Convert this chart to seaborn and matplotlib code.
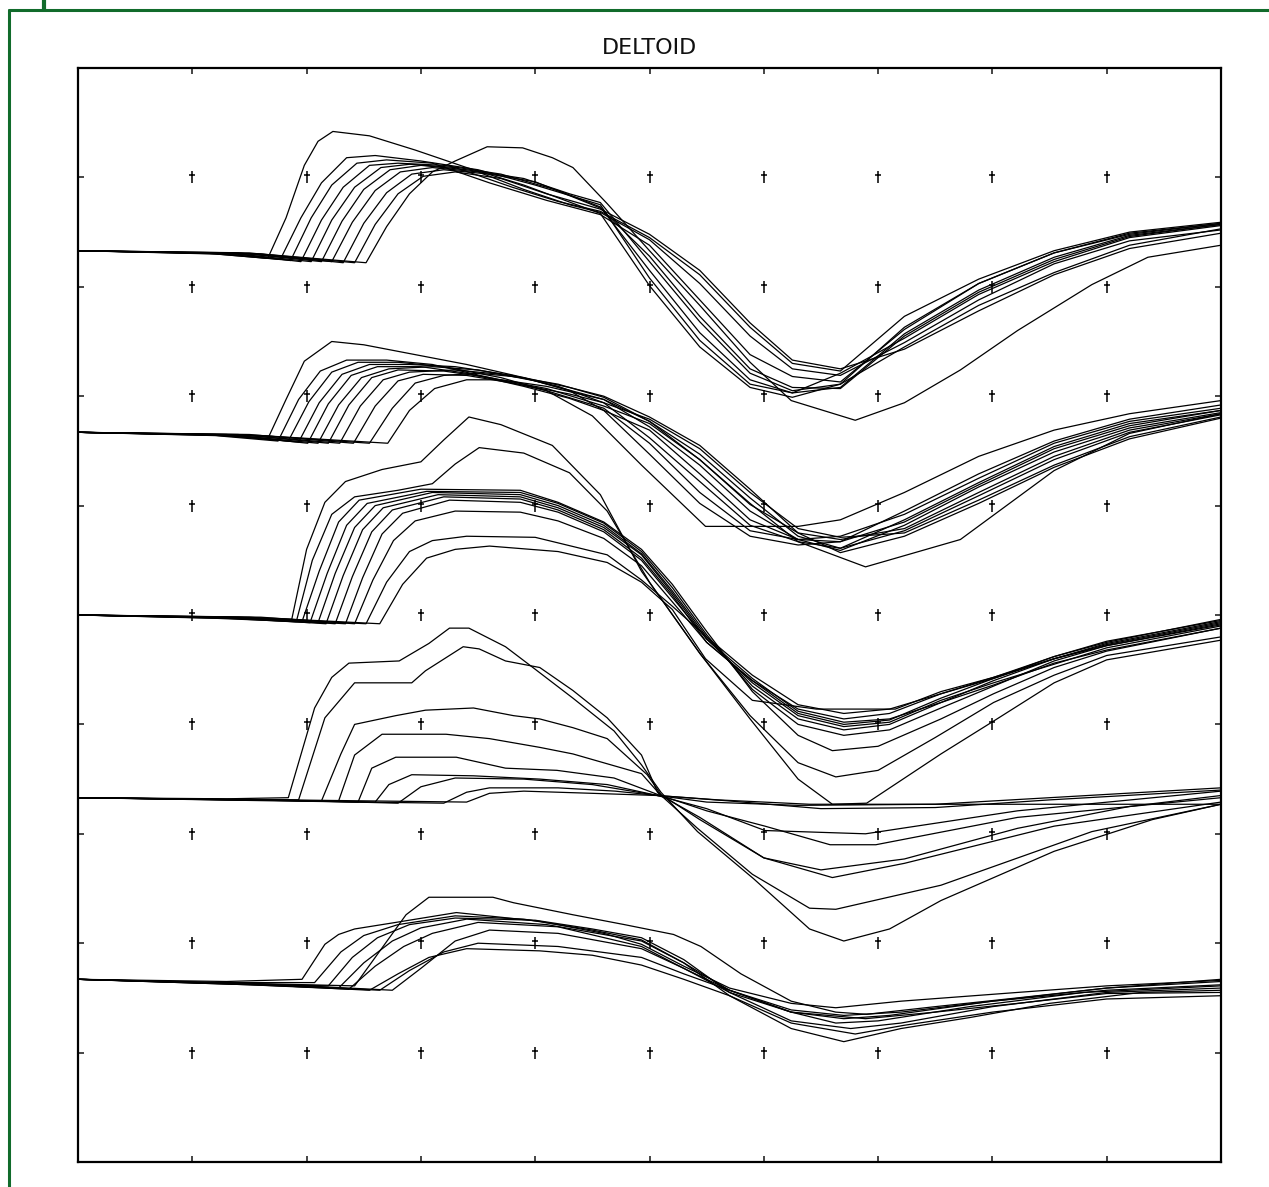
import itertools

import matplotlib
matplotlib.use("Agg")
import matplotlib.pyplot as plt
from matplotlib.lines import Line2D
from matplotlib.path import Path
import pandas as pd
import seaborn as sns

# five channels of superimposed sweeps, each trace = (time, amplitude) pairs
# amplitude is relative to the channel baseline, in grid units
OFFSETS = [8.33, 6.67, 5.0, 3.33, 1.67]

CH1 = [
    [(0, 0), (1.1, -0.02), (1.66, -0.07), (1.82, 0.3), (1.98, 0.78), (2.1, 1.0), (2.23, 1.09), (2.55, 1.05),
     (2.95, 0.92), (3.4, 0.76), (3.9, 0.6), (4.57, 0.34), (5.0, -0.32), (5.44, -0.88), (5.88, -1.25),
     (6.25, -1.34), (6.67, -1.22), (7.23, -0.88), (7.88, -0.5), (8.54, -0.2), (9.2, 0.05), (10, 0.2)],
    [(0, 0), (1.2, -0.03), (1.77, -0.08), (1.95, 0.3), (2.13, 0.62), (2.35, 0.85), (2.6, 0.87), (3.0, 0.82),
     (3.5, 0.74), (4.0, 0.6), (4.57, 0.42), (5.0, -0.25), (5.44, -0.82), (5.88, -1.22), (6.25, -1.3),
     (6.67, -1.12), (7.23, -0.8), (7.88, -0.4), (8.54, -0.1), (9.2, 0.12), (10, 0.23)],
    [(0, 0), (1.3, -0.03), (1.86, -0.09), (2.04, 0.3), (2.22, 0.6), (2.44, 0.8), (2.7, 0.83), (3.1, 0.8),
     (3.6, 0.62), (4.1, 0.46), (4.57, 0.33), (5.0, 0.05), (5.44, -0.45), (5.88, -0.95), (6.25, -1.15),
     (6.67, -1.2), (7.23, -0.72), (7.88, -0.3), (8.54, -0.02), (9.2, 0.16), (10, 0.25)],
    [(0, 0), (1.3, -0.02), (1.95, -0.1), (2.13, 0.28), (2.32, 0.58), (2.55, 0.78), (2.8, 0.8), (3.2, 0.78),
     (3.7, 0.7), (4.2, 0.55), (4.57, 0.4), (5.0, -0.18), (5.44, -0.75), (5.88, -1.18), (6.25, -1.3),
     (6.67, -1.25), (7.23, -0.76), (7.88, -0.36), (8.54, -0.06), (9.2, 0.14), (10, 0.24)],
    [(0, 0), (1.4, -0.03), (2.04, -0.1), (2.22, 0.28), (2.42, 0.58), (2.65, 0.76), (2.9, 0.79), (3.3, 0.76),
     (3.8, 0.58), (4.2, 0.45), (4.57, 0.36), (5.0, 0.12), (5.44, -0.22), (5.88, -0.7), (6.25, -1.03),
     (6.67, -1.1), (7.23, -0.6), (7.88, -0.26), (8.54, 0.0), (9.2, 0.17), (10, 0.26)],
    [(0, 0), (1.4, -0.02), (2.13, -0.1), (2.31, 0.27), (2.5, 0.56), (2.73, 0.74), (3.0, 0.78), (3.4, 0.74),
     (3.9, 0.66), (4.3, 0.52), (4.57, 0.44), (5.0, -0.1), (5.44, -0.65), (5.88, -1.12), (6.25, -1.28),
     (6.67, -1.22), (7.23, -0.7), (7.88, -0.3), (8.54, -0.02), (9.2, 0.15), (10, 0.25)],
    [(0, 0), (1.5, -0.03), (2.22, -0.1), (2.4, 0.26), (2.6, 0.55), (2.82, 0.72), (3.1, 0.76), (3.5, 0.72),
     (3.9, 0.56), (4.3, 0.42), (4.57, 0.35), (5.0, 0.1), (5.44, -0.3), (5.88, -0.78), (6.25, -1.08),
     (6.67, -1.14), (7.23, -0.84), (7.88, -0.45), (8.54, -0.12), (9.2, 0.09), (10, 0.19)],
    [(0, 0), (1.5, -0.02), (2.32, -0.11), (2.5, 0.25), (2.7, 0.53), (2.92, 0.7), (3.2, 0.74), (3.6, 0.7),
     (4.0, 0.63), (4.57, 0.39), (5.0, -0.05), (5.44, -0.6), (5.88, -1.08), (6.25, -1.25), (6.67, -1.26),
     (7.23, -0.78), (7.88, -0.38), (8.54, -0.08), (9.2, 0.13), (10, 0.24)],
    [(0, 0), (1.6, -0.03), (2.42, -0.11), (2.6, 0.24), (2.8, 0.52), (3.02, 0.68), (3.3, 0.72), (3.7, 0.66),
     (4.1, 0.52), (4.57, 0.38), (5.0, 0.15), (5.44, -0.18), (5.88, -0.66), (6.25, -1.0), (6.67, -1.08),
     (7.23, -0.9), (7.88, -0.55), (8.54, -0.22), (9.2, 0.02), (10, 0.16)],
    [(0, 0), (1.6, -0.03), (2.52, -0.11), (2.7, 0.22), (2.9, 0.52), (3.1, 0.72), (3.3, 0.82), (3.58, 0.95),
     (3.89, 0.94), (4.15, 0.85), (4.33, 0.76), (4.63, 0.43), (5.0, 0.0), (5.44, -0.5), (5.88, -1.02),
     (6.24, -1.37), (6.8, -1.55), (7.23, -1.39), (7.72, -1.09), (8.22, -0.73), (8.87, -0.31), (9.36, -0.06),
     (10, 0.05)],
]

CH2 = [
    [(0, 0), (1.1, -0.02), (1.66, -0.06), (1.82, 0.3), (1.98, 0.65), (2.22, 0.83), (2.5, 0.8), (2.9, 0.72),
     (3.4, 0.62), (3.9, 0.5), (4.3, 0.38), (4.6, 0.2), (5.0, -0.2), (5.44, -0.65), (5.88, -0.95), (6.3, -1.03),
     (6.67, -1.0), (7.23, -0.72), (7.88, -0.38), (8.54, -0.08), (9.2, 0.12), (10, 0.25)],
    [(0, 0), (1.2, -0.03), (1.75, -0.08), (1.93, 0.3), (2.12, 0.56), (2.35, 0.66), (2.7, 0.66), (3.1, 0.62),
     (3.6, 0.5), (4.1, 0.38), (4.6, 0.22), (5.0, -0.1), (5.44, -0.55), (5.88, -0.9), (6.3, -0.98),
     (6.67, -0.95), (7.23, -0.75), (7.88, -0.42), (8.54, -0.1), (9.2, 0.1), (10, 0.22)],
    [(0, 0), (1.2, -0.02), (1.84, -0.08), (2.02, 0.28), (2.22, 0.55), (2.45, 0.64), (2.8, 0.64), (3.2, 0.6),
     (3.7, 0.5), (4.1, 0.38), (4.5, 0.15), (4.93, -0.3), (5.49, -0.86), (6.3, -0.86), (6.67, -0.8),
     (7.23, -0.55), (7.88, -0.22), (8.54, 0.02), (9.2, 0.17), (10, 0.29)],
    [(0, 0), (1.3, -0.03), (1.93, -0.09), (2.11, 0.27), (2.31, 0.53), (2.55, 0.62), (2.9, 0.62), (3.3, 0.6),
     (3.8, 0.52), (4.2, 0.42), (4.6, 0.27), (5.0, -0.05), (5.44, -0.45), (5.88, -0.85), (6.3, -1.0),
     (6.67, -1.06), (7.23, -0.8), (7.88, -0.46), (8.54, -0.13), (9.2, 0.08), (10, 0.2)],
    [(0, 0), (1.3, -0.02), (2.01, -0.1), (2.19, 0.26), (2.39, 0.52), (2.62, 0.6), (3.0, 0.6), (3.4, 0.54),
     (3.9, 0.42), (4.3, 0.31), (4.6, 0.2), (5.0, 0.02), (5.44, -0.38), (5.88, -0.8), (6.3, -0.98),
     (6.67, -1.0), (7.23, -0.82), (7.88, -0.48), (8.54, -0.15), (9.2, 0.06), (10, 0.2)],
    [(0, 0), (1.4, -0.03), (2.10, -0.1), (2.28, 0.25), (2.48, 0.5), (2.72, 0.58), (3.1, 0.6), (3.5, 0.57),
     (4.0, 0.47), (4.6, 0.3), (5.0, 0.05), (5.44, -0.3), (5.88, -0.72), (6.3, -0.98), (6.67, -1.08),
     (7.23, -0.85), (7.88, -0.5), (8.54, -0.18), (9.2, 0.04), (10, 0.18)],
    [(0, 0), (1.4, -0.02), (2.19, -0.1), (2.37, 0.25), (2.57, 0.5), (2.8, 0.57), (3.2, 0.56), (3.6, 0.5),
     (4.1, 0.4), (4.6, 0.24), (5.0, 0.08), (5.44, -0.25), (5.88, -0.66), (6.3, -0.92), (6.67, -0.98),
     (7.23, -0.88), (7.88, -0.55), (8.54, -0.22), (9.2, 0.02), (10, 0.17)],
    [(0, 0), (1.5, -0.03), (2.29, -0.1), (2.47, 0.24), (2.67, 0.48), (2.9, 0.55), (3.3, 0.57), (3.7, 0.53),
     (4.2, 0.44), (4.6, 0.32), (5.0, 0.1), (5.44, -0.2), (5.88, -0.6), (6.3, -0.95), (6.67, -1.06),
     (7.23, -0.9), (7.88, -0.58), (8.54, -0.25), (9.2, 0.0), (10, 0.16)],
    [(0, 0), (1.5, -0.02), (2.41, -0.1), (2.6, 0.24), (2.8, 0.47), (3.02, 0.53), (3.4, 0.52), (3.8, 0.45),
     (4.3, 0.35), (4.6, 0.27), (5.0, 0.12), (5.44, -0.15), (5.88, -0.55), (6.3, -0.88), (6.67, -0.96),
     (7.23, -0.92), (7.88, -0.62), (8.54, -0.3), (9.2, -0.04), (10, 0.14)],
    [(0, 0), (1.6, -0.03), (2.55, -0.1), (2.75, 0.22), (2.95, 0.45), (3.2, 0.52), (3.5, 0.54), (3.9, 0.5),
     (4.3, 0.41), (4.6, 0.33), (5.0, 0.14), (5.44, -0.12), (5.88, -0.52), (6.3, -0.92), (6.67, -1.1),
     (7.23, -0.95), (7.88, -0.65), (8.54, -0.32), (9.2, -0.06), (10, 0.13)],
    [(0, 0), (1.6, -0.03), (2.71, -0.1), (2.9, 0.2), (3.12, 0.4), (3.4, 0.48), (3.7, 0.48), (4.1, 0.42),
     (4.6, 0.3), (5.0, 0.1), (5.44, -0.25), (5.88, -0.65), (6.3, -1.0), (6.89, -1.23), (7.72, -0.98),
     (8.54, -0.35), (9.2, -0.01), (10, 0.17)],
]

CH3 = [
    [(0, 0), (1.2, -0.02), (1.87, -0.04), (2.0, 0.6), (2.16, 1.03), (2.34, 1.22), (2.66, 1.33), (3.0, 1.4),
     (3.2, 1.6), (3.42, 1.81), (3.7, 1.74), (4.15, 1.55), (4.57, 1.1), (4.93, 0.4), (5.44, -0.35),
     (5.88, -0.95), (6.3, -1.5), (6.6, -1.73), (6.9, -1.72), (7.55, -1.27), (8.01, -0.97), (8.54, -0.62),
     (9.0, -0.41), (10, -0.23)],
    [(0, 0), (1.2, -0.03), (1.91, -0.06), (2.05, 0.5), (2.22, 0.92), (2.42, 1.08), (2.8, 1.14), (3.1, 1.2),
     (3.3, 1.38), (3.51, 1.53), (3.9, 1.48), (4.3, 1.3), (4.63, 0.95), (5.0, 0.3), (5.44, -0.35),
     (5.88, -0.92), (6.3, -1.35), (6.63, -1.48), (7.0, -1.42), (7.5, -1.12), (8.01, -0.8), (8.54, -0.55),
     (9.0, -0.37), (10, -0.2)],
    [(0, 0), (1.3, -0.02), (1.96, -0.06), (2.11, 0.4), (2.28, 0.85), (2.46, 1.05), (3.0, 1.15), (3.87, 1.14),
     (4.2, 1.03), (4.6, 0.85), (4.93, 0.6), (5.2, 0.28), (5.5, -0.15), (5.9, -0.7), (6.3, -1.1), (6.6, -1.24),
     (7.0, -1.2), (7.55, -0.95), (8.01, -0.72), (8.54, -0.48), (9.0, -0.33), (10, -0.12)],
    [(0, 0), (1.3, -0.03), (2.03, -0.07), (2.18, 0.38), (2.35, 0.82), (2.53, 1.02), (3.05, 1.13),
     (3.87, 1.12), (4.2, 1.02), (4.6, 0.84), (4.93, 0.58), (5.2, 0.25), (5.5, -0.18), (5.9, -0.68),
     (6.3, -1.0), (6.7, -1.1), (7.1, -1.05), (7.55, -0.85), (8.01, -0.65), (8.54, -0.42), (9.0, -0.28),
     (10, -0.08)],
    [(0, 0), (1.4, -0.02), (2.10, -0.07), (2.25, 0.38), (2.42, 0.8), (2.6, 1.0), (3.1, 1.12), (3.87, 1.1),
     (4.2, 1.0), (4.6, 0.82), (4.93, 0.56), (5.2, 0.22), (5.5, -0.2), (5.9, -0.65), (6.3, -0.95),
     (6.7, -1.05), (7.1, -1.0), (7.55, -0.8), (8.01, -0.6), (8.54, -0.4), (9.0, -0.26), (10, -0.06)],
    [(0, 0), (1.4, -0.03), (2.17, -0.08), (2.32, 0.36), (2.49, 0.78), (2.67, 0.98), (3.15, 1.1), (3.87, 1.08),
     (4.2, 0.98), (4.6, 0.8), (4.93, 0.55), (5.2, 0.2), (5.5, -0.22), (5.9, -0.62), (6.3, -0.92),
     (6.7, -1.02), (7.1, -0.98), (7.55, -0.78), (8.01, -0.62), (8.54, -0.45), (9.0, -0.3), (10, -0.1)],
    [(0, 0), (1.5, -0.02), (2.25, -0.08), (2.4, 0.35), (2.57, 0.76), (2.75, 0.96), (3.2, 1.08), (3.87, 1.06),
     (4.2, 0.96), (4.6, 0.78), (4.93, 0.52), (5.2, 0.18), (5.5, -0.25), (5.9, -0.6), (6.3, -0.9), (6.7, -1.0),
     (7.1, -0.96), (7.55, -0.76), (8.01, -0.58), (8.54, -0.38), (9.0, -0.24), (10, -0.05)],
    [(0, 0), (1.5, -0.03), (2.34, -0.08), (2.49, 0.34), (2.66, 0.74), (2.84, 0.93), (3.25, 1.05),
     (3.87, 1.03), (4.2, 0.94), (4.6, 0.76), (4.93, 0.5), (5.2, 0.16), (5.5, -0.22), (5.9, -0.58),
     (6.3, -0.88), (6.7, -0.98), (7.1, -0.95), (7.55, -0.8), (8.01, -0.64), (8.54, -0.44), (9.0, -0.32),
     (10, -0.12)],
    [(0, 0), (1.6, -0.02), (2.42, -0.08), (2.58, 0.32), (2.76, 0.68), (2.95, 0.86), (3.3, 0.95), (3.87, 0.94),
     (4.2, 0.86), (4.6, 0.7), (4.93, 0.45), (5.2, 0.12), (5.5, -0.25), (5.9, -0.6), (6.3, -0.86),
     (6.7, -0.95), (7.1, -0.9), (7.55, -0.72), (8.01, -0.57), (8.54, -0.4), (9.0, -0.27), (10, -0.07)],
    [(0, 0), (1.6, -0.03), (2.52, -0.08), (2.7, 0.3), (2.9, 0.58), (3.1, 0.68), (3.4, 0.72), (4.0, 0.71),
     (4.63, 0.55), (4.93, 0.32), (5.2, 0.08), (5.5, -0.2), (5.9, -0.55), (6.3, -0.82), (6.7, -0.9),
     (7.1, -0.86), (7.55, -0.72), (8.01, -0.58), (8.54, -0.4), (9.0, -0.28), (10, -0.09)],
    [(0, 0), (1.7, -0.03), (2.64, -0.08), (2.84, 0.28), (3.05, 0.52), (3.3, 0.6), (3.6, 0.63), (4.2, 0.58),
     (4.63, 0.48), (4.93, 0.3), (5.2, 0.05), (5.49, -0.4), (5.9, -0.78), (6.46, -0.86), (7.15, -0.86),
     (7.55, -0.7), (8.01, -0.57), (8.54, -0.38), (9.0, -0.25), (10, -0.04)],
]

CH4 = [
    [(0, 0), (1.3, -0.01), (1.84, 0.0), (2.07, 0.82), (2.22, 1.1), (2.37, 1.23), (2.81, 1.25), (3.07, 1.41),
     (3.25, 1.55), (3.42, 1.55), (3.74, 1.38), (3.98, 1.19), (4.33, 0.91), (4.69, 0.61), (4.93, 0.3),
     (5.1, 0.05), (5.42, -0.31), (5.91, -0.74), (6.4, -1.2), (6.7, -1.31), (7.1, -1.2), (7.55, -0.94),
     (8.54, -0.49), (9.4, -0.2), (10, -0.06)],
    [(0, 0), (1.3, -0.02), (1.93, -0.02), (2.16, 0.73), (2.42, 1.05), (2.92, 1.05), (3.04, 1.16), (3.37, 1.38),
     (3.51, 1.36), (3.74, 1.25), (4.04, 1.19), (4.33, 0.98), (4.63, 0.73), (4.93, 0.39), (5.07, 0.05),
     (5.42, -0.28), (5.9, -0.7), (6.4, -1.01), (6.63, -1.02), (7.55, -0.8), (8.87, -0.31), (10, -0.06)],
    [(0, 0), (1.4, -0.02), (2.13, -0.03), (2.3, 0.4), (2.42, 0.67), (2.78, 0.75), (3.04, 0.8), (3.46, 0.82),
     (3.81, 0.75), (4.04, 0.72), (4.33, 0.64), (4.63, 0.54), (4.98, 0.21), (5.1, 0.03), (5.44, -0.2),
     (6.0, -0.55), (6.5, -0.66), (7.23, -0.56), (8.22, -0.28), (9.2, -0.08), (10, 0.02)],
    [(0, 0), (1.5, -0.02), (2.28, -0.03), (2.42, 0.39), (2.66, 0.58), (3.22, 0.58), (3.6, 0.54), (4.04, 0.46),
     (4.33, 0.4), (4.93, 0.22), (5.1, 0.02), (5.44, -0.18), (6.0, -0.55), (6.6, -0.73), (7.23, -0.6),
     (8.54, -0.26), (10, -0.04)],
    [(0, 0), (1.5, -0.02), (2.45, -0.04), (2.57, 0.27), (2.78, 0.37), (3.31, 0.37), (3.74, 0.27), (4.19, 0.25),
     (4.69, 0.18), (5.07, 0.03), (5.5, -0.12), (6.01, -0.26), (6.58, -0.43), (6.98, -0.43), (8.22, -0.18),
     (10, 0.0)],
    [(0, 0), (1.6, -0.02), (2.6, -0.04), (2.72, 0.12), (2.92, 0.21), (3.46, 0.2), (4.04, 0.17), (4.63, 0.12),
     (5.07, 0.02), (5.5, -0.1), (6.01, -0.3), (6.89, -0.33), (8.22, -0.12), (10, 0.06)],
    [(0, 0), (1.7, -0.02), (2.8, -0.05), (3.0, 0.1), (3.3, 0.18), (3.9, 0.17), (4.5, 0.12), (5.07, 0.02),
     (5.5, -0.04), (6.3, -0.07), (7.5, -0.06), (8.5, 0.0), (10, 0.09)],
    [(0, 0), (1.8, -0.03), (3.2, -0.05), (3.4, 0.05), (3.6, 0.09), (4.2, 0.09), (4.7, 0.06), (5.07, 0.02),
     (5.6, -0.02), (6.4, -0.06), (10, -0.06)],
    [(0, 0), (1.8, -0.02), (3.4, -0.04), (3.6, 0.04), (3.9, 0.06), (4.5, 0.04), (5.07, 0.02), (5.7, -0.03),
     (6.5, -0.1), (7.5, -0.09), (8.5, -0.02), (10, 0.07)],
]

CH5 = [
    [(0, 0), (1.3, -0.02), (1.96, 0.0), (2.16, 0.32), (2.28, 0.41), (2.42, 0.46), (2.78, 0.52), (3.31, 0.61),
     (4.04, 0.53), (4.6, 0.42), (4.93, 0.32), (5.3, 0.12), (5.7, -0.08), (6.24, -0.22), (6.63, -0.26),
     (7.2, -0.2), (8.22, -0.12), (9.0, -0.06), (10, -0.01)],
    [(0, 0), (1.3, -0.03), (2.07, -0.03), (2.3, 0.25), (2.5, 0.4), (2.8, 0.5), (3.3, 0.58), (3.9, 0.55),
     (4.5, 0.45), (4.93, 0.36), (5.3, 0.15), (5.7, -0.1), (6.24, -0.3), (6.7, -0.36), (7.1, -0.33),
     (8.0, -0.2), (9.0, -0.1), (10, -0.05)],
    [(0, 0), (1.4, -0.04), (2.19, -0.06), (2.4, 0.2), (2.62, 0.38), (2.9, 0.5), (3.3, 0.56), (4.0, 0.54),
     (4.5, 0.46), (4.93, 0.38), (5.3, 0.18), (5.7, -0.12), (6.24, -0.38), (6.76, -0.45), (7.2, -0.4),
     (8.0, -0.25), (9.0, -0.12), (10, -0.08)],
    [(0, 0), (1.5, -0.05), (2.28, -0.08), (2.5, 0.15), (2.75, 0.35), (3.0, 0.47), (3.4, 0.55), (4.1, 0.5),
     (4.93, 0.35), (5.3, 0.15), (5.7, -0.15), (6.24, -0.45), (6.7, -0.57), (7.2, -0.45), (7.8, -0.35),
     (8.5, -0.22), (9.3, -0.12), (10, -0.1)],
    [(0, 0), (1.5, -0.05), (2.37, -0.09), (2.6, 0.12), (2.85, 0.3), (3.1, 0.42), (3.5, 0.52), (4.2, 0.48),
     (4.93, 0.3), (5.3, 0.1), (5.7, -0.12), (6.24, -0.3), (6.89, -0.36), (7.5, -0.3), (8.22, -0.22),
     (9.0, -0.13), (10, -0.12)],
    [(0, 0), (1.6, -0.04), (2.42, -0.06), (2.6, 0.2), (2.87, 0.59), (3.07, 0.75), (3.63, 0.75), (3.81, 0.7),
     (4.33, 0.59), (4.78, 0.5), (5.21, 0.41), (5.45, 0.3), (5.8, 0.05), (6.24, -0.2), (6.63, -0.3),
     (6.9, -0.32), (7.5, -0.25), (8.22, -0.17), (9.0, -0.08), (10, -0.02)],
    [(0, 0), (1.6, -0.05), (2.55, -0.1), (2.8, 0.05), (3.07, 0.2), (3.4, 0.28), (4.04, 0.26), (4.5, 0.22),
     (4.93, 0.13), (5.3, 0.0), (5.7, -0.15), (6.24, -0.4), (6.8, -0.5), (7.23, -0.42), (8.0, -0.3),
     (9.0, -0.18), (10, -0.15)],
    [(0, 0), (1.7, -0.05), (2.64, -0.1), (2.9, 0.08), (3.2, 0.25), (3.5, 0.33), (4.2, 0.3), (4.93, 0.2),
     (5.3, 0.05), (5.7, -0.1), (6.24, -0.3), (6.63, -0.4), (7.0, -0.38), (7.8, -0.25), (8.8, -0.12),
     (10, -0.06)],
    [(0, 0), (1.8, -0.05), (2.75, -0.1), (3.0, 0.1), (3.3, 0.35), (3.6, 0.45), (4.2, 0.42), (4.93, 0.28),
     (5.3, 0.1), (5.7, -0.1), (6.24, -0.28), (6.7, -0.33), (7.2, -0.3), (8.0, -0.2), (9.0, -0.08),
     (10, 0.0)],
]

GRID_X = [1, 2, 3, 4, 5, 6, 7, 8, 9]
GRID_Y = [1, 2, 3, 4, 5, 6, 7, 8, 9]

# long table, one row per sample
rows = []
for ch, (traces, base) in enumerate(zip([CH1, CH2, CH3, CH4, CH5], OFFSETS)):
    for k, tr in enumerate(traces):
        for x, a in tr:
            rows.append({"t": x, "v": base + a, "sweep": f"{ch}-{k}"})
df = pd.DataFrame(rows)

sns.set_style("white")

fig = plt.figure(figsize=(12.69, 11.87), dpi=100)
ax = fig.add_axes([78 / 1269, 1 - 1162 / 1187, 1143 / 1269, 1094 / 1187])

sns.lineplot(data=df, x="t", y="v", units="sweep", estimator=None, sort=False,
             color="black", lw=0.9, legend=False, ax=ax)

# dagger-like grid cross: long stem, short bar near the top
cross = Path([(0, -1), (0, 1), (-0.55, 0.4), (0.55, 0.4)],
             [Path.MOVETO, Path.LINETO, Path.MOVETO, Path.LINETO])
gx, gy = zip(*itertools.product(GRID_X, GRID_Y))
ax.plot(gx, gy, ls="none", marker=cross, ms=8, mew=1.1, color="black")

ax.set_xlim(0, 10)
ax.set_ylim(0, 10)
ax.set_xticks(GRID_X)
ax.set_yticks(GRID_Y)
ax.tick_params(direction="in", length=4, width=1.2, top=True, right=True,
               bottom=True, left=True, labelbottom=False, labelleft=False)
ax.set_xlabel("")
ax.set_ylabel("")
for s in ax.spines.values():
    s.set_visible(True)
    s.set_color("black")
    s.set_linewidth(1.6)

ax.set_title("DELTOID", fontsize=16, pad=10, color="#111111")

# green window frame around the figure
green = "#116b2b"
fig.add_artist(Line2D([9 / 1269, 9 / 1269], [0, 1 - 10 / 1187], color=green, lw=2.2))
fig.add_artist(Line2D([9 / 1269, 1], [1 - 10 / 1187, 1 - 10 / 1187], color=green, lw=2.2))
fig.add_artist(Line2D([44 / 1269, 44 / 1269], [1 - 10 / 1187, 1], color=green, lw=3))

fig.savefig("out.png", dpi=100)
